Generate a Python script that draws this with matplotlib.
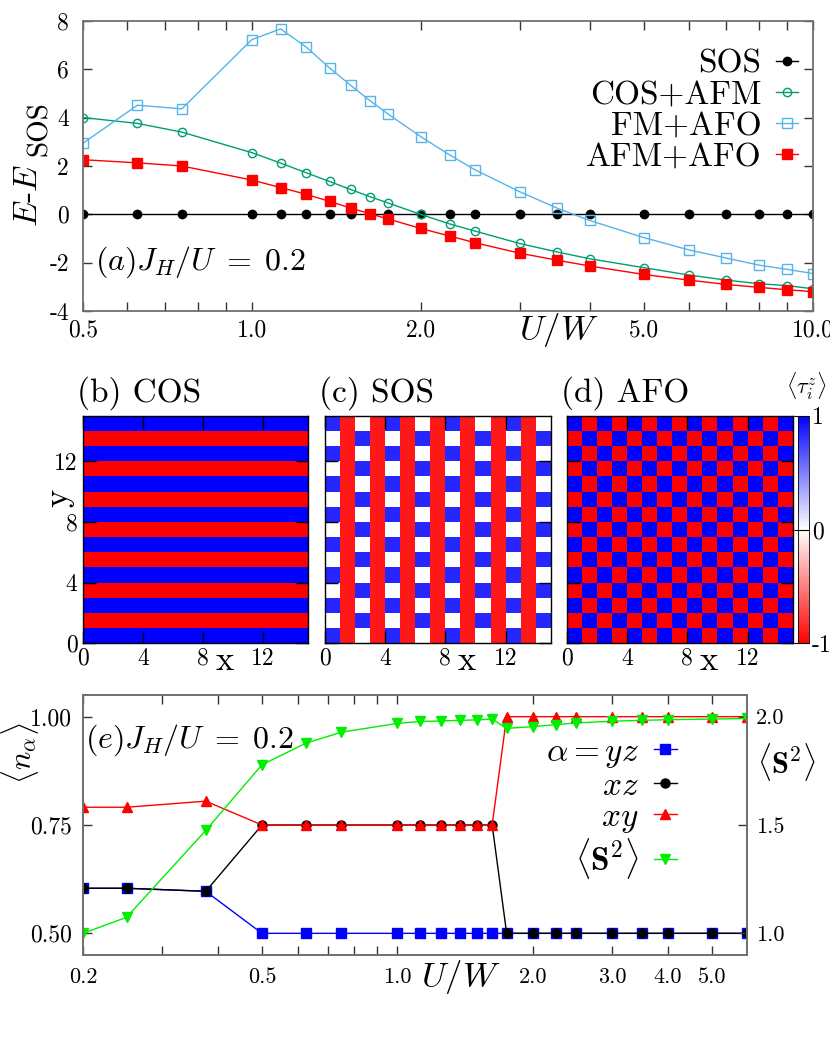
import numpy as np
import matplotlib
matplotlib.use('Agg')
import matplotlib.pyplot as plt
from matplotlib.colors import LinearSegmentedColormap

plt.rcParams['font.family'] = ['cmr10', 'DejaVu Serif']
plt.rcParams['mathtext.fontset'] = 'cm'
plt.rcParams['axes.unicode_minus'] = False

# ---------------- panel (a) data ----------------
a_u = [0.5, 0.625, 0.75, 1.0, 1.125, 1.25, 1.375, 1.5, 1.625, 1.75, 2.0,
       2.25, 2.5, 3.0, 3.5, 4.0, 5.0, 6.0, 7.0, 8.0, 9.0, 10.0]
a_sos = [0.0, 0.0, 0.0, 0.0, 0.0, 0.0, 0.0, 0.0, 0.0, 0.0, 0.0,
         0.0, 0.0, 0.0, 0.0, 0.0, 0.0, 0.0, 0.0, 0.0, 0.0, 0.0]
a_cos_afm = [4.00, 3.76, 3.40, 2.55, 2.12, 1.72, 1.36, 1.03, 0.73, 0.47, 0.00,
             -0.39, -0.69, -1.20, -1.55, -1.83, -2.20, -2.50, -2.71, -2.86, -2.94, -3.07]
a_fm_afo = [2.94, 4.51, 4.36, 7.22, 7.66, 6.91, 6.05, 5.33, 4.69, 4.14, 3.21,
            2.46, 1.84, 0.94, 0.26, -0.25, -0.96, -1.46, -1.80, -2.09, -2.27, -2.44]
a_afm_afo = [2.26, 2.13, 2.00, 1.42, 1.11, 0.83, 0.54, 0.26, 0.03, -0.19, -0.58,
             -0.89, -1.17, -1.60, -1.89, -2.13, -2.48, -2.71, -2.89, -3.01, -3.11, -3.19]
a_labels = ['SOS', 'COS+AFM', 'FM+AFO', 'AFM+AFO']
a_xticks = [0.5, 0.6, 0.7, 0.8, 0.9, 1.0, 2.0, 3.0, 4.0, 5.0, 6.0, 7.0, 8.0, 9.0, 10.0]
a_xticklabels = ['0.5', '', '', '', '', '1.0', '2.0', '', '', '5.0', '', '', '', '', '10.0']
a_yticks = [-4, -2, 0, 2, 4, 6, 8]
a_yticklabels = ['-4', '-2', '0', '2', '4', '6', '8']

# ---------------- panels (b)-(d) data: <tau_i^z> on 15x15 lattice ----------------
# rows listed from y=0 (bottom) upward; B/R/W symbols mapped to values below
cos_rows = ['BBBBBBBBBBBBBBB', 'RRRRRRRRRRRRRRR', 'BBBBBBBBBBBBBBB', 'RRRRRRRRRRRRRRR',
            'BBBBBBBBBBBBBBB', 'RRRRRRRRRRRRRRR', 'BBBBBBBBBBBBBBB', 'RRRRRRRRRRRRRRR',
            'BBBBBBBBBBBBBBB', 'RRRRRRRRRRRRRRR', 'BBBBBBBBBBBBBBB', 'RRRRRRRRRRRRRRR',
            'BBBBBBBBBBBBBBB', 'RRRRRRRRRRRRRRR', 'BBBBBBBBBBBBBBB']
cos_values = {'B': 1.0, 'R': -1.0, 'W': 0.0}
sos_rows = ['BRWRBRWRBRWRBRW', 'WRBRWRBRWRBRWRB', 'BRWRBRWRBRWRBRW', 'WRBRWRBRWRBRWRB',
            'BRWRBRWRBRWRBRW', 'WRBRWRBRWRBRWRB', 'BRWRBRWRBRWRBRW', 'WRBRWRBRWRBRWRB',
            'BRWRBRWRBRWRBRW', 'WRBRWRBRWRBRWRB', 'BRWRBRWRBRWRBRW', 'WRBRWRBRWRBRWRB',
            'BRWRBRWRBRWRBRW', 'WRBRWRBRWRBRWRB', 'BRWRBRWRBRWRBRW']
sos_values = {'B': 0.85, 'R': -0.9, 'W': 0.0}
afo_rows = ['BRBRBRBRBRBRBRB', 'RBRBRBRBRBRBRBR', 'BRBRBRBRBRBRBRB', 'RBRBRBRBRBRBRBR',
            'BRBRBRBRBRBRBRB', 'RBRBRBRBRBRBRBR', 'BRBRBRBRBRBRBRB', 'RBRBRBRBRBRBRBR',
            'BRBRBRBRBRBRBRB', 'RBRBRBRBRBRBRBR', 'BRBRBRBRBRBRBRB', 'RBRBRBRBRBRBRBR',
            'BRBRBRBRBRBRBRB', 'RBRBRBRBRBRBRBR', 'BRBRBRBRBRBRBRB']
afo_values = {'B': 1.0, 'R': -1.0, 'W': 0.0}
map_titles = ['(b) COS', '(c) SOS', '(d) AFO']
map_ticks = [0, 4, 8, 12]
cbar_ticks = [-1, 0, 1]
cbar_ticklabels = ['-1', '0', '1']

# ---------------- panel (e) data ----------------
e_u = [0.2, 0.25, 0.375, 0.5, 0.625, 0.75, 1.0, 1.125, 1.25, 1.375, 1.5,
       1.625, 1.75, 2.0, 2.25, 2.5, 3.0, 3.5, 4.0, 5.0, 6.0]
n_yz = [0.604, 0.604, 0.597, 0.5, 0.5, 0.5, 0.5, 0.5, 0.5, 0.5, 0.5,
        0.5, 0.5, 0.5, 0.5, 0.5, 0.5, 0.5, 0.5, 0.5, 0.5]
n_xz = [0.604, 0.604, 0.597, 0.75, 0.75, 0.75, 0.75, 0.75, 0.75, 0.75, 0.75,
        0.75, 0.5, 0.5, 0.5, 0.5, 0.5, 0.5, 0.5, 0.5, 0.5]
n_xy = [0.791, 0.791, 0.805, 0.75, 0.75, 0.75, 0.75, 0.75, 0.75, 0.75, 0.75,
        0.75, 1.0, 1.0, 1.0, 1.0, 1.0, 1.0, 1.0, 1.0, 1.0]
s2 = [1.0, 1.074, 1.475, 1.778, 1.877, 1.928, 1.969, 1.978, 1.980, 1.983, 1.985,
      1.989, 1.946, 1.954, 1.963, 1.971, 1.979, 1.983, 1.986, 1.989, 1.992]
e_labels = [r'$\alpha=yz$', r'$xz$', r'$xy$', r'$\langle\mathbf{S}^2\rangle$']
e_xticks = [0.2, 0.3, 0.4, 0.5, 0.6, 0.7, 0.8, 0.9, 1.0, 2.0, 3.0, 4.0, 5.0]
e_xticklabels = ['0.2', '', '', '0.5', '', '', '', '', '1.0', '2.0', '3.0', '4.0', '5.0']
e_yticks = [0.5, 0.75, 1.0]
e_yticklabels = ['0.50', '0.75', '1.00']
e_y2ticks = [1.0, 1.5, 2.0]
e_y2ticklabels = ['1.0', '1.5', '2.0']

# ---------------- figure ----------------
W, H = 830, 1038
fig = plt.figure(figsize=(W / 100, H / 100), dpi=100)


def box(l, t, r, b):
    return [l / W, 1 - b / H, (r - l) / W, (b - t) / H]


SPINE = '#707070'

# ---- (a) ----
ax = fig.add_axes(box(83, 20.7, 813, 311.3))
ax.plot(a_u, a_sos, color='black', marker='o', ms=6, lw=1, label=a_labels[0])
ax.plot(a_u, a_cos_afm, color='#009e73', marker='o', mfc='none', ms=6, mew=1, lw=1,
        label=a_labels[1])
ax.plot(a_u, a_fm_afo, color='#56b4e9', marker='s', mfc='none', ms=6.5, mew=1, lw=1,
        label=a_labels[2])
ax.plot(a_u, a_afm_afo, color='#ff0000', marker='s', ms=6.5, lw=1, label=a_labels[3])
ax.set_xscale('log')
ax.set_xlim(0.5, 10.0)
ax.set_ylim(-4, 8)
ax.minorticks_off()
ax.set_xticks(a_xticks, a_xticklabels)
ax.set_yticks(a_yticks, a_yticklabels)
ax.tick_params(axis='both', which='both', direction='in', length=6.5, width=1,
               top=True, right=True, labelsize=17, color='#333333')
ax.tick_params(axis='y', pad=10)
ax.tick_params(axis='x', pad=6)
for s in ax.spines.values():
    s.set_color(SPINE)
    s.set_linewidth(1.3)
ax.text(0.651, -0.064, r'$U/W$', transform=ax.transAxes, fontsize=25,
        ha='center', va='center')
ax.text(0.0164, 0.144, r'$(a)J_H/U\;=\;0.2$', transform=ax.transAxes, fontsize=23,
        ha='left', va='baseline')
fig.text(37 / W, 1 - 227 / H, r'$E$-$E$', rotation=90, rotation_mode='anchor',
         ha='left', va='baseline', fontsize=24)
fig.text(47 / W, 1 - 156 / H, 'SOS', rotation=90, rotation_mode='anchor',
         ha='left', va='baseline', fontsize=21)
leg = ax.legend(loc='upper right', bbox_to_anchor=(0.9795, 0.903), frameon=False,
                markerfirst=False, fontsize=24, numpoints=1, handlelength=0.65,
                handletextpad=0.45, labelspacing=0.05, borderpad=0, borderaxespad=0)

# ---- (b)-(d) ----
cmap = LinearSegmentedColormap.from_list('rwb', ['#ff0000', '#ffffff', '#0000ff'])
edges = np.arange(16)
map_boxes = [box(83, 415.7, 308, 643.3), box(325, 415.7, 550.7, 643.3),
             box(567, 415.7, 792.7, 643.3)]
grids = [(cos_rows, cos_values), (sos_rows, sos_values), (afo_rows, afo_values)]
mesh = None
for i, (rows, vals) in enumerate(grids):
    axm = fig.add_axes(map_boxes[i])
    Z = np.array([[vals[ch] for ch in row] for row in rows])
    mesh = axm.pcolormesh(edges, edges, Z, cmap=cmap, vmin=-1, vmax=1,
                          shading='flat', antialiased=False)
    axm.set_xlim(0, 15)
    axm.set_ylim(0, 15)
    axm.set_xticks(map_ticks, [str(t) for t in map_ticks])
    axm.set_yticks(map_ticks, [str(t) for t in map_ticks])
    axm.tick_params(direction='in', length=9, width=1, top=True, right=True,
                    labelsize=17, color='black')
    axm.tick_params(axis='x', pad=3)
    axm.tick_params(axis='y', pad=4)
    if i > 0:
        axm.set_yticklabels([])
    for s in axm.spines.values():
        s.set_color('black')
        s.set_linewidth(1)
    axm.text(-0.025, 1.0615, map_titles[i], transform=axm.transAxes, fontsize=24,
             ha='left', va='baseline')
    axm.text(0.63, -0.118, 'x', transform=axm.transAxes, fontsize=25,
             ha='center', va='baseline')
    if i == 0:
        axm.text(-0.11, 0.64, 'y', transform=axm.transAxes, fontsize=25,
                 rotation=90, ha='center', va='center')

cax = fig.add_axes(box(798, 415.7, 809.3, 643.3))
cb = fig.colorbar(mesh, cax=cax, ticks=cbar_ticks)
cb.set_ticklabels(cbar_ticklabels)
cb.outline.set_linewidth(0.6)
cax.tick_params(direction='in', length=11, width=0.8, labelsize=17, pad=2)
fig.text(806 / W, 1 - 386 / H, r'$\langle\tau_i^z\rangle$', ha='center', va='center',
         fontsize=16)

# ---- (e) ----
ae = fig.add_axes(box(83, 695, 747.3, 955))
ae.plot(e_u, n_yz, color='#0000ff', marker='s', ms=6.5, lw=1, label=e_labels[0])
ae.plot(e_u, n_xz, color='black', marker='o', ms=6.5, lw=1, label=e_labels[1])
ae.plot(e_u, n_xy, color='#ff0000', marker='^', ms=6.5, lw=1, label=e_labels[2])
ae.set_xscale('log')
ae.set_xlim(0.2, 6.0)
ae.set_ylim(0.45, 1.05)
ae2 = ae.twinx()
ae2.plot(e_u, s2, color='#00ee00', marker='v', ms=6.5, lw=1, label=e_labels[3])
ae2.set_ylim(0.9, 2.1)
ae.minorticks_off()
ae2.minorticks_off()
ae.set_xticks(e_xticks, e_xticklabels)
ae.set_yticks(e_yticks, e_yticklabels)
ae2.set_yticks(e_y2ticks, e_y2ticklabels)
ae.tick_params(axis='both', which='both', direction='in', length=6.5, width=1,
               top=True, right=False, labelsize=17, color='#333333')
ae.tick_params(axis='x', labelsize=16)
ae.tick_params(axis='y', pad=8)
ae.tick_params(axis='x', pad=9)
ae2.tick_params(axis='y', direction='in', length=6.5, width=1, labelsize=16, pad=6,
                color='#333333')
for a_ in (ae, ae2):
    for s in a_.spines.values():
        s.set_color(SPINE)
        s.set_linewidth(1.3)
ae.text(0.569, -0.085, r'$U/W$', transform=ae.transAxes, fontsize=25,
        ha='center', va='center')
ae.text(0.003, 0.796, r'$(e)J_H/U\;=\;0.2$', transform=ae.transAxes, fontsize=23,
        ha='left', va='baseline')
fig.text(20 / W, 1 - 753 / H, r'$\langle n_\alpha\rangle$', rotation=90,
         ha='center', va='center', fontsize=22)
fig.text(786 / W, 1 - 762 / H, r'$\langle\mathbf{S}^2\rangle$',
         ha='center', va='center', fontsize=22)
h1, l1 = ae.get_legend_handles_labels()
h2, l2 = ae2.get_legend_handles_labels()
ae2.legend(h1 + h2, l1 + l2, loc='upper right', bbox_to_anchor=(0.894, 0.837),
           frameon=False, markerfirst=False, fontsize=24, numpoints=1,
           handlelength=0.7, handletextpad=0.45, labelspacing=0.05, borderpad=0,
           borderaxespad=0)

fig.savefig('out.png', dpi=100)
